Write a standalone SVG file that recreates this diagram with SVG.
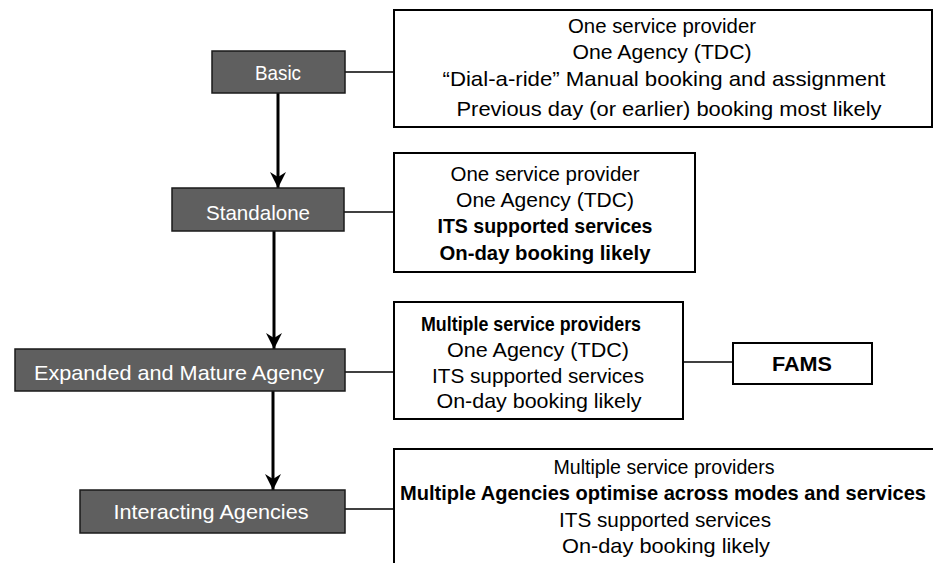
<svg xmlns="http://www.w3.org/2000/svg" width="933" height="563" viewBox="0 0 933 563">
<style>
.stage rect{fill:#5f5f5f;stroke:#1a1a1a;stroke-width:1.5}
.stage text{fill:#fff;font-family:"Liberation Sans",Arial,sans-serif;font-size:21px;text-anchor:middle}
.info rect{fill:#fff;stroke:#000;stroke-width:2}
.info text{fill:#000;font-family:"Liberation Sans",Arial,sans-serif;font-size:21px;text-anchor:middle}
.b{font-weight:bold}
.conn line{stroke:#000}
.thin{stroke-width:1.5}
.arr{stroke-width:3;marker-end:url(#ah)}
</style>
<defs>
<marker id="ah" markerUnits="userSpaceOnUse" markerWidth="18" markerHeight="18" refX="16" refY="8" orient="auto">
<path d="M0,0 L16,8 L0,16 L5,8 z" fill="#000"/>
</marker>
</defs>
<g id="connectors" class="conn">
<line class="arr" x1="278" y1="93" x2="278" y2="188"/>
<line class="arr" x1="274" y1="231" x2="274" y2="349"/>
<line class="arr" x1="273" y1="391" x2="273" y2="490"/>
<line class="thin" x1="345" y1="72" x2="394" y2="72"/>
<line class="thin" x1="344" y1="212" x2="394" y2="212"/>
<line class="thin" x1="345" y1="372" x2="394" y2="372"/>
<line class="thin" x1="683" y1="362" x2="733" y2="362"/>
<line class="thin" x1="345" y1="509" x2="394" y2="509"/>
</g>
<g id="basic" class="stage">
<rect x="212" y="51" width="133" height="42"/>
<text x="278" y="80" textLength="46" lengthAdjust="spacingAndGlyphs">Basic</text>
</g>
<g id="standalone" class="stage">
<rect x="172" y="188" width="172" height="43"/>
<text x="258" y="220" textLength="104" lengthAdjust="spacingAndGlyphs">Standalone</text>
</g>
<g id="expanded" class="stage">
<rect x="15" y="349" width="330" height="42"/>
<text x="179" y="380" textLength="290" lengthAdjust="spacingAndGlyphs">Expanded and Mature Agency</text>
</g>
<g id="interacting" class="stage">
<rect x="80" y="490" width="265" height="43"/>
<text x="211" y="519" textLength="195" lengthAdjust="spacingAndGlyphs">Interacting Agencies</text>
</g>
<g id="info-basic" class="info">
<rect x="394" y="10" width="538" height="117"/>
<text x="662" y="33" textLength="188" lengthAdjust="spacingAndGlyphs">One service provider</text>
<text x="662" y="59" textLength="179" lengthAdjust="spacingAndGlyphs">One Agency (TDC)</text>
<text x="664" y="86" textLength="443" lengthAdjust="spacingAndGlyphs">“Dial-a-ride” Manual booking and assignment</text>
<text x="669" y="116" textLength="425" lengthAdjust="spacingAndGlyphs">Previous day (or earlier) booking most likely</text>
</g>
<g id="info-standalone" class="info">
<rect x="394" y="153" width="301" height="119"/>
<text x="545" y="181" textLength="189" lengthAdjust="spacingAndGlyphs">One service provider</text>
<text x="545" y="207" textLength="178" lengthAdjust="spacingAndGlyphs">One Agency (TDC)</text>
<text x="545" y="233" class="b" textLength="215" lengthAdjust="spacingAndGlyphs">ITS supported services</text>
<text x="545" y="260" class="b" textLength="211" lengthAdjust="spacingAndGlyphs">On-day booking likely</text>
</g>
<g id="info-expanded" class="info">
<rect x="394" y="302" width="289" height="117"/>
<text x="531" y="331" class="b" textLength="220" lengthAdjust="spacingAndGlyphs">Multiple service providers</text>
<text x="538" y="357" textLength="182" lengthAdjust="spacingAndGlyphs">One Agency (TDC)</text>
<text x="538" y="383" textLength="212" lengthAdjust="spacingAndGlyphs">ITS supported services</text>
<text x="539" y="408" textLength="205" lengthAdjust="spacingAndGlyphs">On-day booking likely</text>
</g>
<g id="fams" class="info">
<rect x="733" y="343" width="139" height="41"/>
<text x="802" y="371" class="b" textLength="60" lengthAdjust="spacingAndGlyphs">FAMS</text>
</g>
<g id="info-interacting" class="info">
<rect x="394" y="449" width="600" height="200"/>
<text x="664" y="474" textLength="221" lengthAdjust="spacingAndGlyphs">Multiple service providers</text>
<text x="663" y="500" class="b" textLength="526" lengthAdjust="spacingAndGlyphs">Multiple Agencies optimise across modes and services</text>
<text x="665" y="527" textLength="212" lengthAdjust="spacingAndGlyphs">ITS supported services</text>
<text x="666" y="553" textLength="208" lengthAdjust="spacingAndGlyphs">On-day booking likely</text>
</g>
</svg>
